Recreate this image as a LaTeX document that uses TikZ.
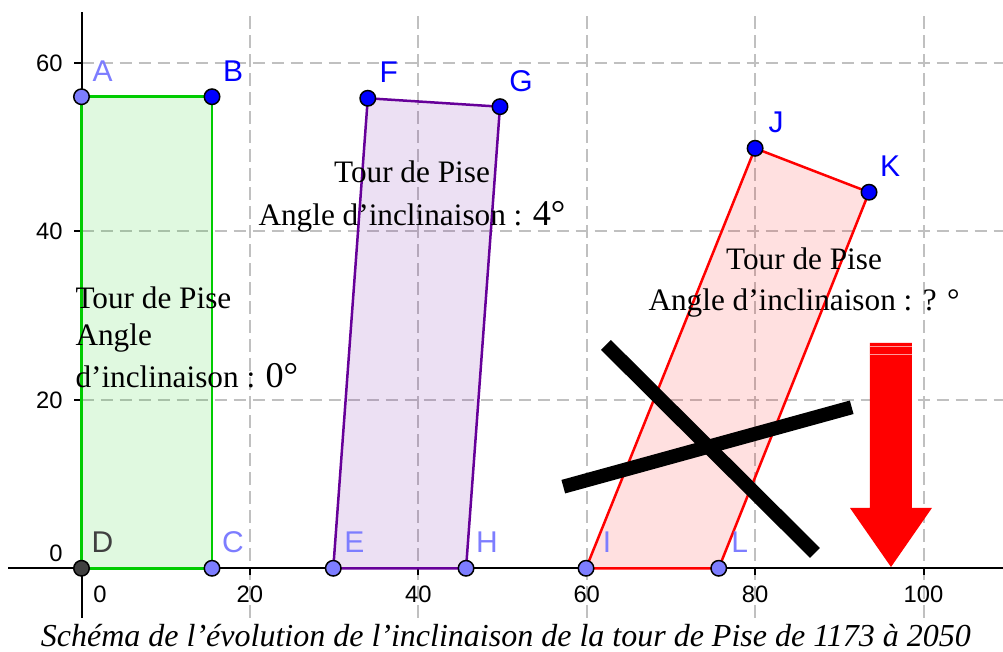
\documentclass[tikz,border=0pt]{standalone}
\usepackage{fontspec}
\setmainfont{Liberation Serif}
\setsansfont{Liberation Sans}
\definecolor{ptlight}{RGB}{125,125,255}
\definecolor{ptdark}{RGB}{0,0,255}
\definecolor{ptgray}{RGB}{64,64,64}
\definecolor{towergreen}{RGB}{0,204,0}
\definecolor{towerpurple}{RGB}{102,0,153}
\definecolor{gridgray}{RGB}{192,192,192}
\tikzset{
  gridline/.style={gridgray,line width=0.8pt,dash pattern=on 5pt off 2.6pt},
  axisline/.style={black,line width=0.8pt},
  pt/.style={circle,draw=black,line width=0.6pt,inner sep=0pt,minimum size=6.2pt},
  ptlabel/.style={font=\sffamily\fontsize{12}{12}\selectfont,xshift=8.4pt,yshift=10.4pt},
  ticklabel/.style={font=\sffamily\fontsize{9.5}{9.5}\selectfont,inner sep=0pt},
  towertext/.style={font=\fontsize{12.5}{15}\selectfont,inner sep=0pt},
  crossline/.style={black,line width=5.6pt}
}
\begin{document}
\begin{tikzpicture}[x=3.368pt,y=3.368pt]
  \useasboundingbox (-9.68,-9.94) rectangle (109.44,67.49);
  \foreach \horizontal in {20,40,60,80,100}
    \draw[gridline] (\horizontal,-5.9)--(\horizontal,66.1);
  \foreach \vertical in {20,40,60}
    \draw[gridline] (0,\vertical)--(109.44,\vertical);
  \draw[axisline] (-8.7,0)--(109.44,0);
  \draw[axisline] (0,-5.9)--(0,66.1);
  \foreach \horizontal in {20,40,60,80,100}{
    \draw[axisline] (\horizontal,0)--(\horizontal,-0.85);
    \node[ticklabel] (xlab\horizontal) at (\horizontal,-3.06) {\horizontal};
  }
  \foreach \vertical in {20,40,60}{
    \draw[axisline] (0,\vertical)--(-0.85,\vertical);
    \node[ticklabel,anchor=east] (ylab\vertical) at (-2.2,\vertical) {\vertical};
  }
  \node[ticklabel] (xlab0) at (2.2,-3.06) {0};
  \node[ticklabel,anchor=east] (ylab0) at (-2.2,1.82) {0};
  \coordinate (A) at (0,56);
  \coordinate (B) at (15.5,56);
  \coordinate (C) at (15.5,0);
  \coordinate (D) at (0,0);
  \coordinate (E) at (29.9,0);
  \coordinate (F) at (34.0,55.82);
  \coordinate (G) at (49.7,54.82);
  \coordinate (H) at (45.67,0);
  \coordinate (I) at (59.92,0);
  \coordinate (J) at (80.0,49.88);
  \coordinate (K) at (93.53,44.66);
  \coordinate (L) at (75.68,0);
  \fill[towergreen,fill opacity=0.12] (A)--(B)--(C)--(D)--cycle;
  \draw[towergreen,line width=1pt] (A)--(B)--(C)--(D)--cycle;
  \fill[towerpurple,fill opacity=0.12] (E)--(F)--(G)--(H)--cycle;
  \draw[towerpurple,line width=1pt] (E)--(F)--(G)--(H)--cycle;
  \fill[red,fill opacity=0.12] (I)--(J)--(K)--(L)--cycle;
  \draw[red,line width=1pt] (I)--(J)--(K)--(L)--cycle;
  \draw[crossline] (62.29,26.52)--(87.11,1.82);
  \draw[crossline] (57.22,9.69)--(91.47,19.12);
  \fill[red] (93.64,26.76)--(98.63,26.76)--(98.63,7.16)--(101.0,7.16)
    --(96.14,0.15)--(91.27,7.16)--(93.64,7.16)--cycle;
  \foreach \vertical in {26.28,25.33}
    \draw[white!60!red,line width=0.4pt] (93.64,\vertical)--(98.63,\vertical);
  \foreach \p in {A,C,E,H,I,L}
    \node[pt,fill=ptlight,label={[ptlabel,text=ptlight]center:\p}] (dot\p) at (\p) {};
  \foreach \p in {B,F,G,J,K}
    \node[pt,fill=ptdark,label={[ptlabel,text=ptdark]center:\p}] (dot\p) at (\p) {};
  \node[pt,fill=ptgray,label={[ptlabel,text=ptgray]center:D}] (dotD) at (D) {};
  \node[towertext,anchor=base west] (leftA) at (-0.77,30.8) {Tour de Pise};
  \node[towertext,anchor=base west] (leftB) at (-0.77,26.5) {Angle};
  \node[towertext,anchor=base west] (leftC) at (-0.77,21.5)
    {d’inclinaison : {\fontsize{14.5}{15}\selectfont 0°}};
  \node[towertext,anchor=base] (midA) at (39.25,45.76) {Tour de Pise};
  \node[towertext,anchor=base] (midB) at (39.25,40.65)
    {Angle d’inclinaison : {\fontsize{14.5}{15}\selectfont 4°}};
  \node[towertext,anchor=base] (rightA) at (85.81,35.43) {Tour de Pise};
  \node[towertext,anchor=base] (rightB) at (85.81,30.56) {Angle d’inclinaison : ? °};
  \node[font=\itshape\fontsize{12.8}{16}\selectfont,inner sep=0pt,anchor=base] (caption)
    at (50.4,-9.34) {Schéma de l’évolution de l’inclinaison de la tour de Pise de 1173 à 2050};
\end{tikzpicture}
\end{document}
